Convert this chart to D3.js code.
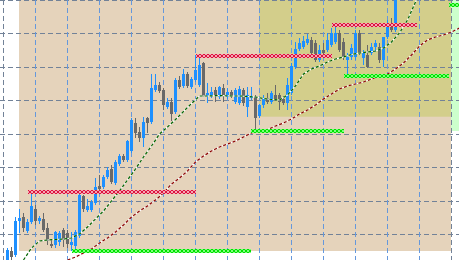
<!DOCTYPE html>
<html>
<head>
<meta charset="utf-8">
<script src="https://cdn.jsdelivr.net/npm/d3@7"></script>
<style>
  body { margin: 0; background: #fff; }
  svg { display: block; }
</style>
</head>
<body>
<div id="chart"></div>
<script>
var width = 459
var height = 260

// candles, one value per bar (price units)
var opens = [999, 1009, 1005, 1039, 1043, 1029, 1038, 1051, 1039, 1041,
  1032, 1016, 1015, 1018, 1030, 1027, 1015, 1014, 1024, 1064,
  1050, 1050, 1057, 1074, 1073, 1083, 1091, 1077, 1096, 1104,
  1100, 1109, 1137, 1128, 1122, 1142, 1138, 1170, 1175, 1170,
  1153, 1158, 1148, 1180, 1174, 1186, 1173, 1180, 1175, 1197,
  1164, 1164, 1170, 1163, 1172, 1163, 1168, 1158, 1157, 1170,
  1153, 1162, 1163, 1144, 1155, 1162, 1158, 1165, 1165, 1161,
  1157, 1167, 1193, 1211, 1213, 1217, 1220, 1217, 1200, 1210,
  1210, 1215, 1218, 1227, 1218, 1200, 1203, 1203, 1227, 1202,
  1205, 1207, 1213, 1213, 1200, 1223, 1237, 1230]
var closes = [1010, 1003, 1039, 1042, 1032, 1038, 1054, 1039, 1042, 1030,
  1019, 1014, 1028, 1027, 1020, 1016, 1018, 1028, 1065, 1051,
  1054, 1058, 1073, 1071, 1083, 1090, 1078, 1098, 1104, 1100,
  1119, 1140, 1127, 1122, 1138, 1137, 1172, 1175, 1169, 1155,
  1158, 1146, 1180, 1173, 1186, 1174, 1181, 1190, 1195, 1164,
  1167, 1168, 1164, 1173, 1164, 1168, 1164, 1170, 1171, 1157,
  1165, 1164, 1142, 1155, 1162, 1158, 1167, 1161, 1158, 1157,
  1175, 1194, 1211, 1217, 1219, 1221, 1207, 1200, 1210, 1207,
  1220, 1227, 1227, 1210, 1203, 1203, 1212, 1227, 1207, 1207,
  1193, 1213, 1217, 1200, 1223, 1237, 1230, 1265]
var highs = [1012, 1013, 1043, 1051, 1047, 1041, 1066, 1055, 1044, 1047,
  1037, 1020, 1029, 1029, 1032, 1030, 1028, 1030, 1067, 1065,
  1061, 1060, 1082, 1085, 1085, 1093, 1095, 1100, 1106, 1106,
  1120, 1142, 1142, 1133, 1143, 1143, 1186, 1186, 1178, 1172,
  1162, 1162, 1182, 1184, 1191, 1188, 1183, 1205, 1203, 1198,
  1177, 1173, 1173, 1174, 1176, 1172, 1170, 1172, 1174, 1172,
  1173, 1173, 1165, 1156, 1165, 1167, 1169, 1175, 1167, 1164,
  1182, 1197, 1218, 1222, 1224, 1226, 1223, 1220, 1215, 1217,
  1227, 1232, 1235, 1230, 1222, 1207, 1216, 1230, 1230, 1210,
  1215, 1217, 1220, 1217, 1223, 1240, 1242, 1270]
var lows = [997, 1000, 1003, 1027, 1028, 1027, 1036, 1035, 1036, 1028,
  1015, 1012, 1012, 1014, 1013, 1012, 1009, 1011, 1022, 1048,
  1048, 1048, 1055, 1069, 1071, 1081, 1076, 1075, 1094, 1098,
  1098, 1107, 1122, 1118, 1113, 1127, 1136, 1168, 1167, 1150,
  1151, 1139, 1146, 1171, 1172, 1172, 1171, 1178, 1173, 1163,
  1157, 1162, 1158, 1161, 1158, 1161, 1162, 1156, 1155, 1154,
  1143, 1160, 1129, 1142, 1152, 1156, 1156, 1159, 1150, 1155,
  1150, 1165, 1191, 1209, 1211, 1215, 1205, 1198, 1198, 1204,
  1208, 1213, 1216, 1208, 1200, 1184, 1200, 1200, 1205, 1195,
  1192, 1205, 1208, 1197, 1193, 1221, 1228, 1228]

// shifted moving averages, one value every 2 bars
var fastMaStart = 4
var fastMa = [1000, 1012, 1019, 1020, 1020.5, 1021, 1022, 1026, 1033, 1041,
  1049, 1059, 1069, 1080, 1091, 1103, 1114, 1126, 1133, 1140.5,
  1148.5, 1156.5, 1164, 1164, 1164.3, 1164.3, 1164, 1164, 1163.5, 1163,
  1161.5, 1160.5, 1160, 1165, 1174, 1186, 1191, 1194, 1198, 1201,
  1203, 1205.5, 1207, 1208, 1209, 1212, 1218, 1227, 1240, 1258, 1274]
var slowMaStart = 15
var slowMa = [1000, 1003, 1007, 1011, 1017, 1022, 1028, 1035, 1043, 1049,
  1054, 1060, 1067, 1076, 1082, 1089, 1098, 1104, 1109, 1113,
  1116, 1119, 1123, 1127, 1129, 1130.5, 1134, 1137, 1141, 1146,
  1150, 1155, 1161, 1166, 1171, 1174, 1176, 1178, 1181, 1184,
  1186, 1191, 1197, 1205, 1214, 1220, 1223, 1225, 1228, 1232]

// support / resistance levels: [from bar, to bar, price]
var resistance = [[5, 47, 1068], [47, 81, 1204.5], [81, 102.3, 1235.5]]
var support = [[16, 61, 1009.5], [61, 84, 1129.5], [84, 110.4, 1184.3], [110.4, 114, 1255]]

// zones: [from bar, to bar, low price, high price]
var zones = [[3, 111, 1009, 1300], [63, 111, 1143.3, 1300], [111, 125, 1129, 1300]]
var zoneColors = ['#e5d3bb', '#d3ce8b', '#ccffcc']

// grid
var gridPrices = [1259.5, 1226, 1192.6, 1159.2, 1125.7, 1092.5, 1059, 1025.5]
var gridBars = [-1, 7, 15, 23, 31, 39, 47, 55, 63, 71, 79, 87, 95, 103, 111]

var xPositionScale = d3.scaleLinear().domain([0, 113]).range([7.5, 459.5])
var yPositionScale = d3.scaleLinear().domain([1000, 1260]).range([260, 0])

var crisp = v => Math.floor(v) + 0.5

var svg = d3
  .select('#chart')
  .append('svg')
  .attr('width', width)
  .attr('height', height)

svg.append('rect').attr('width', width).attr('height', height).attr('fill', '#ffffff')

// zones
svg
  .append('g')
  .selectAll('rect')
  .data(zones)
  .join('rect')
  .attr('x', d => xPositionScale(d[0]) - 0.5)
  .attr('width', d => xPositionScale(d[1]) - xPositionScale(d[0]))
  .attr('y', d => yPositionScale(d[3]))
  .attr('height', d => yPositionScale(d[2]) - yPositionScale(d[3]))
  .attr('fill', (d, i) => zoneColors[i])

// grid lines
svg
  .append('g')
  .selectAll('line')
  .data(gridPrices)
  .join('line')
  .attr('x1', 0)
  .attr('x2', width)
  .attr('y1', d => crisp(yPositionScale(d)))
  .attr('y2', d => crisp(yPositionScale(d)))
  .attr('stroke', '#728298')
  .attr('stroke-dasharray', '5,3')

svg
  .append('g')
  .selectAll('line')
  .data(gridBars)
  .join('line')
  .attr('x1', d => crisp(xPositionScale(d)))
  .attr('x2', d => crisp(xPositionScale(d)))
  .attr('y1', 0)
  .attr('y2', height)
  .attr('stroke', (d, i) => (i === 0 || i === gridBars.length - 1 ? '#728298' : '#6598dc'))
  .attr('stroke-dasharray', '5,3')

// candles
var candles = opens.map((o, i) => ({ i: i, o: o, c: closes[i], h: highs[i], l: lows[i] }))
var up = '#1e90ff'
var down = '#696969'

var candleG = svg
  .append('g')
  .selectAll('g')
  .data(candles)
  .join('g')

candleG
  .append('line')
  .attr('x1', d => xPositionScale(d.i))
  .attr('x2', d => xPositionScale(d.i))
  .attr('y1', d => yPositionScale(d.h))
  .attr('y2', d => yPositionScale(d.l))
  .attr('stroke', d => (d.c >= d.o ? up : down))

candleG
  .append('rect')
  .attr('x', d => xPositionScale(d.i) - 1.5)
  .attr('width', 3)
  .attr('y', d => yPositionScale(Math.max(d.o, d.c)))
  .attr('height', d => Math.max(1, Math.abs(yPositionScale(d.o) - yPositionScale(d.c))))
  .attr('fill', d => (d.c >= d.o ? up : down))

// moving averages: white line with coloured dashes on top
var maLine = d3
  .line()
  .x(d => xPositionScale(d[0]))
  .y(d => yPositionScale(d[1]))

function drawMa(values, start, color) {
  var pts = values.map((v, k) => [start + 2 * k, v])
  svg
    .append('path')
    .datum(pts)
    .attr('d', maLine)
    .attr('fill', 'none')
    .attr('stroke', '#ffffff')
    .attr('stroke-width', 1.2)
  svg
    .append('path')
    .datum(pts)
    .attr('d', maLine)
    .attr('fill', 'none')
    .attr('stroke', color)
    .attr('stroke-width', 1.2)
    .attr('stroke-dasharray', '3,2')
}
drawMa(slowMa, slowMaStart, '#8b0000')
drawMa(fastMa, fastMaStart, '#006400')

// level bands drawn with a small cross pattern
var defs = svg.append('defs')

function drawLevels(levels, name, dark, light) {
  levels.forEach((d, k) => {
    var x = Math.round(xPositionScale(d[0]))
    var y = Math.round(yPositionScale(d[2])) - 2
    var pat = defs
      .append('pattern')
      .attr('id', name + k)
      .attr('patternUnits', 'userSpaceOnUse')
      .attr('x', x)
      .attr('y', y)
      .attr('width', 4)
      .attr('height', 4)
    pat.append('rect').attr('width', 4).attr('height', 4).attr('fill', light)
    var cells = [[0, 0], [3, 0], [1, 1], [2, 1], [1, 2], [2, 2], [0, 3], [3, 3]]
    pat
      .selectAll('rect.c')
      .data(cells)
      .join('rect')
      .attr('class', 'c')
      .attr('x', c => c[0])
      .attr('y', c => c[1])
      .attr('width', 1)
      .attr('height', 1)
      .attr('fill', dark)

    svg
      .append('rect')
      .attr('x', x)
      .attr('y', y)
      .attr('width', Math.round(xPositionScale(d[1])) - x)
      .attr('height', 4)
      .attr('fill', `url(#${name}${k})`)
  })
}
drawLevels(resistance, 'res', '#dc143c', '#f4a6b4')
drawLevels(support, 'sup', '#00e000', '#7cff7c')
</script>
</body>
</html>
